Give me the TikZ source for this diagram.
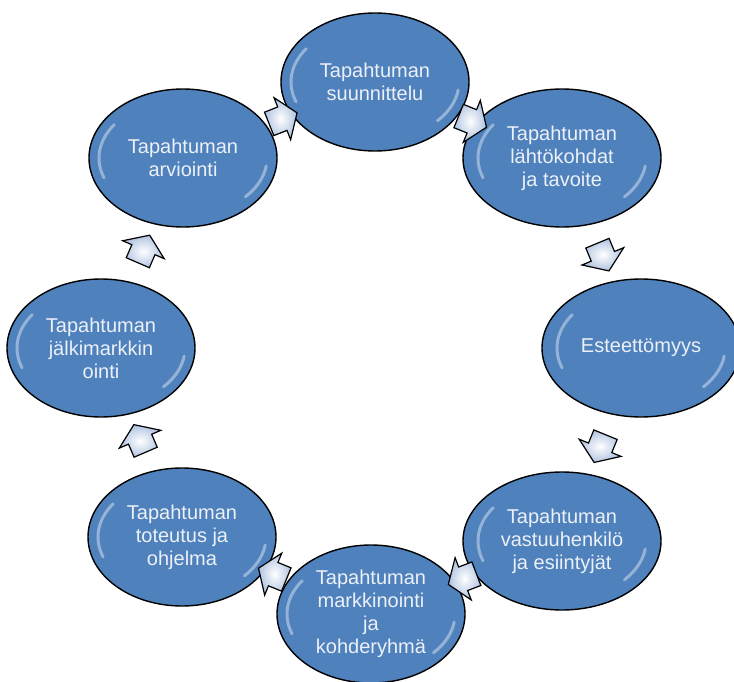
\documentclass[tikz,border=0pt]{standalone}
\usepackage{fontspec}
\setmainfont{Liberation Sans}
\usetikzlibrary{shapes.geometric,shapes.arrows,calc}
\definecolor{cycleblue}{RGB}{79,129,189}
\definecolor{cycletext}{RGB}{236,240,247}
\definecolor{arrowfill}{RGB}{176,195,225}
\tikzset
{
    stagenode/.style = {ellipse, draw=black, line width=1.4pt, fill=cycleblue, text=cycletext, align=center, inner sep=0pt, minimum width=188pt, minimum height=138pt, font=\fontsize{20}{23}\selectfont,
        path picture={
            \draw[white, opacity=0.4, line width=3pt, line cap=round] ($(path picture bounding box.center)+(145:84pt and 58pt)$) arc[start angle=145, end angle=200, x radius=84pt, y radius=58pt];
            \draw[white, opacity=0.4, line width=3pt, line cap=round] ($(path picture bounding box.center)+(-8:84pt and 58pt)$) arc[start angle=-8, end angle=-42, x radius=84pt, y radius=58pt];
        }},
    widenode/.style = {stagenode, minimum width=198pt},
    cyclearrow/.style = {single arrow, draw=black, line width=1.2pt, inner color=white, outer color=arrowfill, inner xsep=0pt, inner ysep=12pt, minimum height=30pt, minimum width=44pt, single arrow head extend=10pt, single arrow tip angle=110}
}

\begin{document}
\begin{tikzpicture}[x=1pt, y=-1pt]
	\useasboundingbox (0,0) rectangle (734,682);
	% the eight stages, clockwise from the top
	\node[stagenode] (plan) at (375,82) {Tapahtuman\\suunnittelu};
	\node[widenode] (goals) at (562,158) {Tapahtuman\\lähtökohdat\\ja tavoite};
	\node[widenode] (access) at (641,348) {Esteettömyys};
	\node[widenode] (staff) at (562,541) {Tapahtuman\\vastuuhenkilö\\ja esiintyjät};
	\node[stagenode] (market) at (371,614) {Tapahtuman\\markkinointi\\ja\\kohderyhmä};
	\node[stagenode] (run) at (182,537) {Tapahtuman\\toteutus ja\\ohjelma};
	\node[stagenode] (after) at (101,348) {Tapahtuman\\jälkimarkkin\\ointi};
	\node[stagenode] (review) at (183,158) {Tapahtuman\\arviointi};
	% arrows between the stages
	\path let \p1 = ($(goals)-(plan)$), \n1 = {atan2(\y1,\x1)} in node[cyclearrow, rotate=\n1] (plangoals) at ($(plan)!0.5!(goals)$) {};
	\path let \p1 = ($(access)-(goals)$), \n1 = {atan2(\y1,\x1)} in node[cyclearrow, rotate=\n1] (goalsaccess) at ($(goals)!0.5!(access)$) {};
	\path let \p1 = ($(staff)-(access)$), \n1 = {atan2(\y1,\x1)} in node[cyclearrow, rotate=\n1] (accessstaff) at ($(access)!0.5!(staff)$) {};
	\path let \p1 = ($(market)-(staff)$), \n1 = {atan2(\y1,\x1)} in node[cyclearrow, rotate=\n1] (staffmarket) at ($(staff)!0.5!(market)$) {};
	\path let \p1 = ($(run)-(market)$), \n1 = {atan2(\y1,\x1)} in node[cyclearrow, rotate=\n1] (marketrun) at ($(market)!0.5!(run)$) {};
	\path let \p1 = ($(after)-(run)$), \n1 = {atan2(\y1,\x1)} in node[cyclearrow, rotate=\n1] (runafter) at ($(run)!0.5!(after)$) {};
	\path let \p1 = ($(review)-(after)$), \n1 = {atan2(\y1,\x1)} in node[cyclearrow, rotate=\n1] (afterreview) at ($(after)!0.5!(review)$) {};
	\path let \p1 = ($(plan)-(review)$), \n1 = {atan2(\y1,\x1)} in node[cyclearrow, rotate=\n1] (reviewplan) at ($(review)!0.5!(plan)$) {};
\end{tikzpicture}
\end{document}
